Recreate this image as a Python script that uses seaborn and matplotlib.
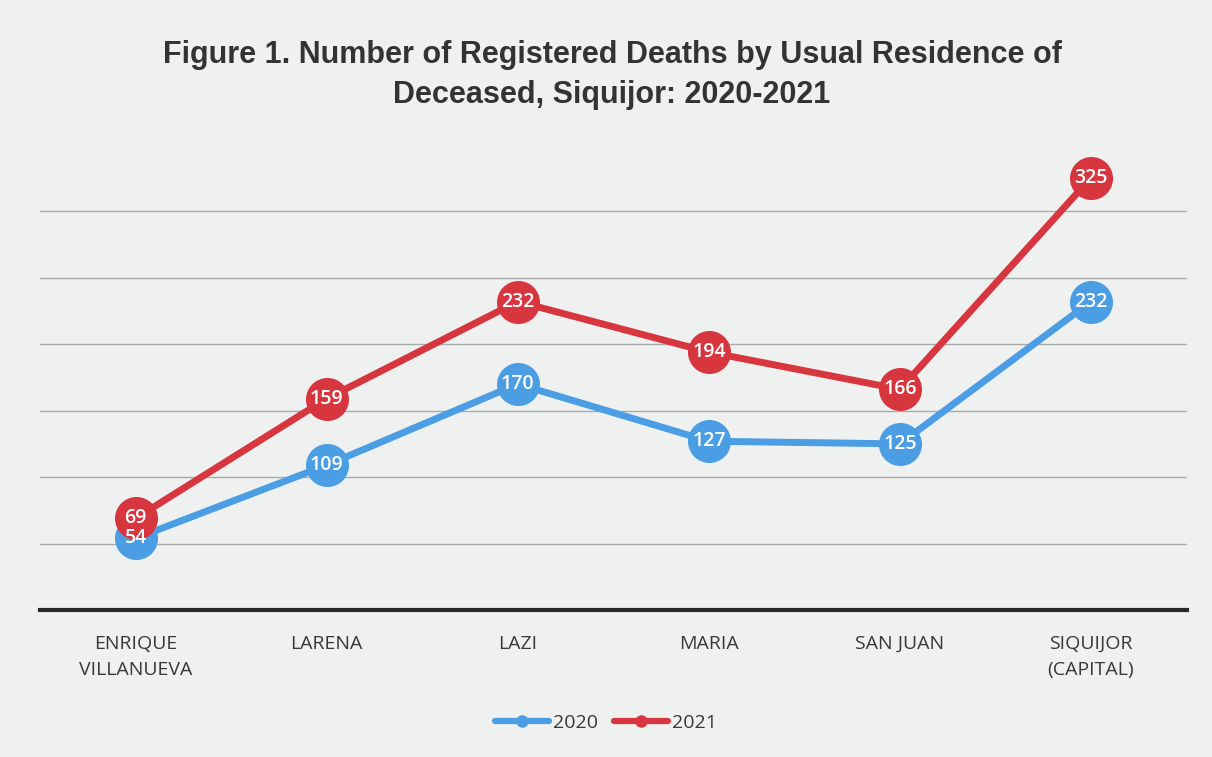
import matplotlib
matplotlib.use("Agg")
import matplotlib.pyplot as plt
import seaborn as sns
import pandas as pd
from matplotlib.lines import Line2D

categories = ["ENRIQUE\nVILLANUEVA", "LARENA", "LAZI", "MARIA", "SAN JUAN", "SIQUIJOR\n(CAPITAL)"]
deaths_2020 = [54, 109, 170, 127, 125, 232]
deaths_2021 = [69, 159, 232, 194, 166, 325]
years = ["2020", "2021"]
yticks = [50, 100, 150, 200, 250, 300]

sns.set_theme(style="white")
bg = "#eff1f1"

rows = []
for i, c in enumerate(categories):
    rows.append({"x": i, "cat": c, "Year": "2020", "Deaths": deaths_2020[i]})
for i, c in enumerate(categories):
    rows.append({"x": i, "cat": c, "Year": "2021", "Deaths": deaths_2021[i]})
df = pd.DataFrame(rows)

palette = {"2020": "#4b9ee3", "2021": "#d8363f"}

fig = plt.figure(figsize=(12.12, 7.57), dpi=100, facecolor=bg)
ax = fig.add_axes([0.033, 0.194, 0.946, 0.615])
ax.set_facecolor(bg)

sns.lineplot(data=df, x="x", y="Deaths", hue="Year", palette=palette, hue_order=years,
             marker="o", markersize=31, linewidth=5, markeredgewidth=0,
             ax=ax, legend=False, zorder=3)

for yr, vals in zip(years, [deaths_2020, deaths_2021]):
    for i, v in enumerate(vals):
        ax.text(i, v, str(v), ha="center", va="center", color="white",
                fontsize=14, fontweight="semibold", family=["Open Sans", "DejaVu Sans"], zorder=5)

ax.set_xlim(-0.5, 5.5)
ax.set_ylim(0, 350)
ax.set_yticks(yticks)
ax.yaxis.grid(True, color="#a8aaaa", linewidth=1.0)
ax.set_axisbelow(True)
ax.tick_params(axis="y", left=False, labelleft=False)
ax.set_xticks(range(len(categories)))
ax.set_xticklabels(categories, fontsize=14, color="#383838", family=["Open Sans", "DejaVu Sans"],
                   linespacing=1.55)
ax.tick_params(axis="x", bottom=False, pad=12)
ax.set_xlabel("")
ax.set_ylabel("")
for s in ["top", "left", "right"]:
    ax.spines[s].set_visible(False)
ax.spines["bottom"].set_color("#2a2a2a")
ax.spines["bottom"].set_linewidth(3)

handles = [Line2D([0], [0], color=palette[y], lw=4.5, marker="o", markersize=9, markeredgewidth=0) for y in years]
fig.legend(handles, years, loc="center", bbox_to_anchor=(0.5, 0.045), ncol=2, frameon=False,
           prop={"family": ["Open Sans", "DejaVu Sans"], "size": 14}, handlelength=2.8,
           columnspacing=0.8, handletextpad=0.2, labelcolor="#383838")

fig.text(0.505, 0.901, "Figure 1. Number of Registered Deaths by Usual Residence of\nDeceased, Siquijor: 2020-2021",
         ha="center", va="center", fontsize=22, fontweight="bold", color="#333333",
         family=["Liberation Sans", "DejaVu Sans"], linespacing=1.4)

fig.savefig("out.png", dpi=100, facecolor=bg)
